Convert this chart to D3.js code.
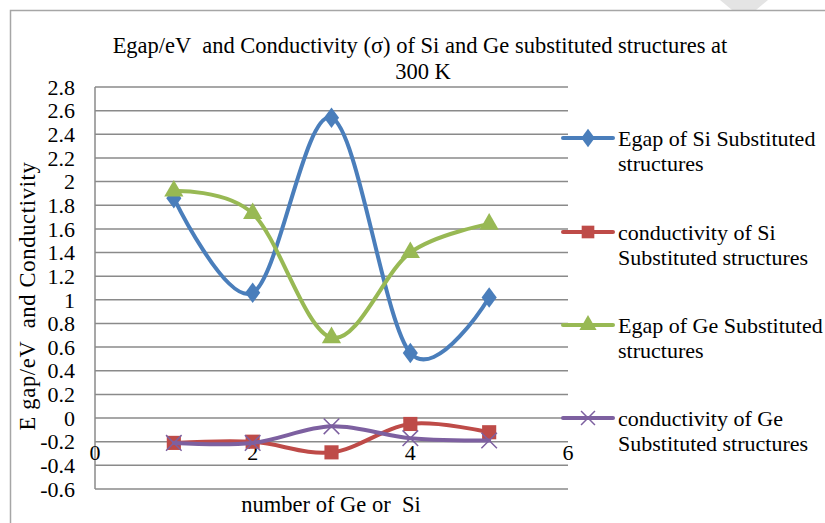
<!DOCTYPE html>
<html>
<head>
<meta charset="utf-8">
<script src="https://cdn.jsdelivr.net/npm/d3@7"></script>
<style>
  html, body { margin: 0; padding: 0; background: #fff; }
  svg { display: block; }
</style>
</head>
<body>
<svg id="chart" width="825" height="523"></svg>
<script>
// ---- data ----
const xValues = [1, 2, 3, 4, 5];
const egapSi = [1.86, 1.06, 2.54, 0.55, 1.02];
const condSi = [-0.21, -0.20, -0.29, -0.05, -0.12];
const egapGe = [1.92, 1.73, 0.68, 1.40, 1.64];
const condGe = [-0.21, -0.21, -0.07, -0.17, -0.19];
const seriesNames = [
  ["Egap of Si Substituted", "structures"],
  ["conductivity of Si", "Substituted structures"],
  ["Egap of Ge Substituted", "structures"],
  ["conductivity of Ge", "Substituted structures"]
];
const yTicks = [2.8, 2.6, 2.4, 2.2, 2, 1.8, 1.6, 1.4, 1.2, 1, 0.8, 0.6, 0.4, 0.2, 0, -0.2, -0.4, -0.6];
const xTicks = [0, 2, 4, 6];
const titleLines = ["Egap/eV  and Conductivity (\u03c3) of Si and Ge substituted structures at", "300 K"];
const yTitle = "E gap/eV  and Conductivity";
const xTitle = "number of Ge or  Si";

// ---- layout ----
const FONT = "Liberation Serif";
const svg = d3.select("#chart");
const plot = { left: 95, right: 568, top: 87, bottom: 489 };
const x = d3.scaleLinear().domain([0, 6]).range([plot.left, plot.right]);
const y = d3.scaleLinear().domain([-0.6, 2.8]).range([plot.bottom, plot.top]);

// page-edge artefact & border
svg.append("polygon")
  .attr("points", "720,0 768,0 756,10 732,10")
  .attr("fill", "#e4e4e4");
svg.append("path")
  .attr("d", "M10.5,523 L10.5,10.5 L825,10.5")
  .attr("fill", "none").attr("stroke", "#a6a6a6").attr("stroke-width", 1.5);

// gridlines
svg.append("g").selectAll("line").data(yTicks).join("line")
  .attr("x1", plot.left).attr("x2", plot.right)
  .attr("y1", d => y(d)).attr("y2", d => y(d))
  .attr("stroke", "#8a8a8a").attr("stroke-width", 1.5);

// y axis line
svg.append("line")
  .attr("x1", plot.left).attr("x2", plot.left)
  .attr("y1", plot.top).attr("y2", plot.bottom)
  .attr("stroke", "#8a8a8a").attr("stroke-width", 1.5);

function txt(sel) {
  return sel.attr("font-family", FONT).attr("fill", "#000")
    .style("white-space", "pre");
}

// y tick labels
txt(svg.append("g").selectAll("text").data(yTicks).join("text"))
  .attr("x", 75).attr("y", d => y(d))
  .attr("dy", "0.35em")
  .attr("text-anchor", "end")
  .attr("font-size", 22)
  .text(d => d);

// x tick labels
txt(svg.append("g").selectAll("text").data(xTicks).join("text"))
  .attr("x", d => x(d)).attr("y", 460)
  .attr("text-anchor", "middle")
  .attr("font-size", 22)
  .text(d => d);

// titles
txt(svg.append("g").selectAll("text").data(titleLines).join("text"))
  .attr("x", (d, i) => i === 0 ? 420 : 423).attr("y", (d, i) => 53 + i * 26)
  .attr("text-anchor", "middle")
  .attr("font-size", 22.5)
  .text(d => d);

txt(svg.append("text"))
  .attr("transform", "translate(35,296) rotate(-90)")
  .attr("text-anchor", "middle")
  .attr("font-size", 22.5)
  .attr("letter-spacing", 0.7)
  .text(yTitle);

txt(svg.append("text"))
  .attr("x", 331).attr("y", 512)
  .attr("text-anchor", "middle")
  .attr("font-size", 22.5)
  .text(xTitle);

// series
const colors = ["#4a7ebb", "#be4b48", "#98b954", "#7d60a0"];
const symbols = [d3.symbolDiamond, d3.symbolSquare, d3.symbolTriangle, d3.symbolX];
const allSeries = [egapSi, condSi, egapGe, condGe];
const line = d3.line().x(d => x(d[0])).y(d => y(d[1])).curve(d3.curveCardinal.tension(0));

function marker(g, i, cx, cy, scale) {
  const sz = [150, 200, 160, 160][i] * scale;
  const p = g.append("path")
    .attr("d", d3.symbol().type(symbols[i]).size(sz)())
    .attr("transform", `translate(${cx},${cy})` + (i === 0 ? " scale(1.15,0.9)" : ""));
  if (i === 3) {
    p.attr("fill", "none").attr("stroke", colors[i]).attr("stroke-width", 1.5);
  } else {
    p.attr("fill", colors[i]).attr("stroke", "none");
  }
}

allSeries.forEach((vals, i) => {
  const pts = xValues.map((xv, k) => [xv, vals[k]]);
  const g = svg.append("g");
  g.append("path").attr("d", line(pts))
    .attr("fill", "none").attr("stroke", colors[i]).attr("stroke-width", 4)
    .attr("stroke-linecap", "round");
  pts.forEach(p => marker(g, i, x(p[0]), y(p[1]), 1));
});

// legend
const legendY = [138, 232, 325, 418];
seriesNames.forEach((lines, i) => {
  const g = svg.append("g");
  g.append("line")
    .attr("x1", 563).attr("x2", 613)
    .attr("y1", legendY[i]).attr("y2", legendY[i])
    .attr("stroke", colors[i]).attr("stroke-width", 4).attr("stroke-linecap", "round");
  marker(g, i, 588, legendY[i], 0.8);
  lines.forEach((t, k) => {
    txt(g.append("text"))
      .attr("x", 618).attr("y", legendY[i] + k * 25)
      .attr("dy", "0.35em")
      .attr("font-size", 22)
      .text(t);
  });
});
</script>
</body>
</html>
